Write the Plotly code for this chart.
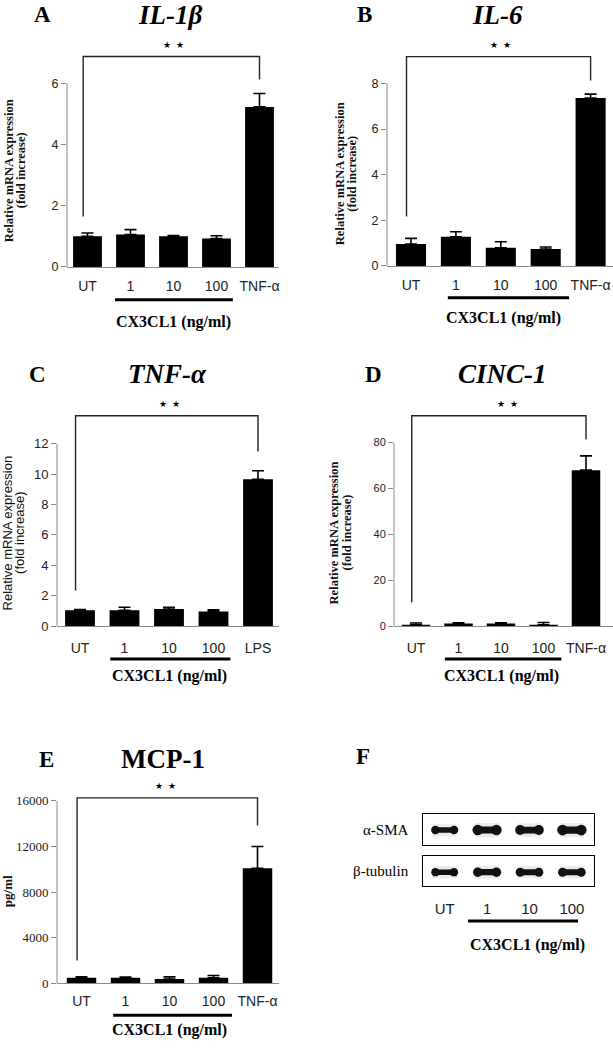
import plotly.graph_objects as go

W, H = 613, 1050

# ---------------- data ----------------
cats_tnf = ["UT", "1", "10", "100", "TNF-α"]
cats_lps = ["UT", "1", "10", "100", "LPS"]

il1b_mean = [1.00, 1.06, 1.00, 0.93, 5.23]
il1b_err = [0.11, 0.16, 0.03, 0.09, 0.44]
il1b_ticks = [0, 2, 4, 6]
il1b_bracket = [1.65, 6.88, 6.13]      # left leg end, bar level, right leg end

il6_mean = [0.96, 1.28, 0.80, 0.74, 7.36]
il6_err = [0.25, 0.22, 0.26, 0.09, 0.17]
il6_ticks = [0, 2, 4, 6, 8]
il6_bracket = [2.17, 9.17, 8.13]

tnfa_mean = [1.04, 1.04, 1.13, 0.96, 9.65]
tnfa_err = [0.05, 0.20, 0.11, 0.11, 0.57]
tnfa_ticks = [0, 2, 4, 6, 8, 10, 12]
tnfa_bracket = [2.35, 13.83, 11.48]

cinc1_mean = [0.6, 1.15, 1.15, 0.6, 68.0]
cinc1_err = [0.8, 0.3, 0.3, 1.0, 6.2]
cinc1_ticks = [0, 20, 40, 60, 80]
cinc1_bracket = [10.4, 91.7, 81.3]

mcp1_mean = [490, 490, 380, 490, 10100]
mcp1_err = [90, 60, 200, 200, 1900]
mcp1_ticks = [0, 4000, 8000, 12000, 16000]
mcp1_bracket = [2000, 16260, 13830]

blot_lanes = ["UT", "1", "10", "100"]
asma_band = [0.6, 1.0, 0.9, 1.05]
btub_band = [0.55, 0.8, 0.7, 0.7]

# ---------------- style ----------------
SERIF = "Liberation Serif"
SANS = "Liberation Sans"
AXIS_GRAY = "#8a8a8a"
INK = "#111111"
TXT = "#222222"
MRNA_L1 = "Relative mRNA expression"
MRNA_L2 = "(fold increase)"

serif_title = dict(family=SERIF, size=12.5, color=INK)
panels = [
    dict(letter="A", title="<b><i>IL-1β</i></b>", cats=cats_tnf, mean=il1b_mean, err=il1b_err,
         ticks=il1b_ticks, bracket=il1b_bracket,
         x0=67, x1=279, c0=87.5, dx=43, base=269, ttop=84, top=30,
         letter_xy=(42, 15), title_xy=(170, 15),
         ytitle=[f"<b>{MRNA_L1}</b>", f"<b>{MRNA_L2}</b>"], ytitle_x=[8.5, 20.5], ytitle_y=172,
         ytitle_font=serif_title, ytick_font=dict(family=SANS, size=12.5, color=TXT),
         uline=(0.64, 3.38), uline_y=302, cx_x=2.0, cx_y=324, tlen=6.5, star_x=2.0),
    dict(letter="B", title="<b><i>IL-6</i></b>", cats=cats_tnf, mean=il6_mean, err=il6_err,
         ticks=il6_ticks, bracket=il6_bracket,
         x0=387, x1=613, c0=411, dx=44.9, base=268, ttop=84, top=30,
         letter_xy=(365, 15), title_xy=(497, 15),
         ytitle=[f"<b>{MRNA_L1}</b>", f"<b>{MRNA_L2}</b>"], ytitle_x=[339.5, 352], ytitle_y=175,
         ytitle_font=serif_title, ytick_font=dict(family=SANS, size=12.5, color=TXT),
         uline=(0.82, 3.52), uline_y=300, cx_x=2.07, cx_y=320, tlen=6.5, star_x=2.0),
    dict(letter="C", title="<b><i>TNF-α</i></b>", cats=cats_lps, mean=tnfa_mean, err=tnfa_err,
         ticks=tnfa_ticks, bracket=tnfa_bracket,
         x0=57, x1=279, c0=80, dx=44.5, base=631, ttop=447, top=392,
         letter_xy=(37, 377), title_xy=(167, 377),
         ytitle=[MRNA_L1, MRNA_L2], ytitle_x=[7.5, 20], ytitle_y=537,
         ytitle_font=dict(family=SANS, size=13, color=INK),
         ytick_font=dict(family=SANS, size=13, color=TXT),
         uline=(0.68, 3.38), uline_y=664, cx_x=2.0, cx_y=681, tlen=9.5, star_x=2.0),
    dict(letter="D", title="<b><i>CINC-1</i></b>", cats=cats_tnf, mean=cinc1_mean, err=cinc1_err,
         ticks=cinc1_ticks, bracket=cinc1_bracket,
         x0=394, x1=613, c0=416, dx=42.5, base=631, ttop=446, top=392,
         letter_xy=(373, 377), title_xy=(502, 377),
         ytitle=[f"<b>{MRNA_L1}</b>", f"<b>{MRNA_L2}</b>"], ytitle_x=[333.5, 346.5], ytitle_y=537,
         ytitle_font=serif_title, ytick_font=dict(family=SANS, size=11, color=TXT),
         uline=(0.68, 3.42), uline_y=664, cx_x=2.0, cx_y=681, tlen=9.5, star_x=2.15),
    dict(letter="E", title="<b>MCP-1</b>", cats=cats_tnf, mean=mcp1_mean, err=mcp1_err,
         ticks=mcp1_ticks, bracket=mcp1_bracket,
         x0=57, x1=279, c0=81.5, dx=44, base=991, ttop=807, top=777,
         letter_xy=(46, 765), title_xy=(163, 765),
         ytitle=["<b>pg/ml</b>"], ytitle_x=[7], ytitle_y=898,
         ytitle_font=dict(family=SERIF, size=13, color=INK),
         ytick_font=dict(family=SERIF, size=13, color=TXT),
         uline=(0.72, 3.42), uline_y=1023, cx_x=2.0, cx_y=1038, tlen=5, star_x=1.9),
]

fig = go.Figure()
layout = dict(
    width=W, height=H, margin=dict(l=0, r=0, t=0, b=0),
    paper_bgcolor="white", plot_bgcolor="white", showlegend=False,
)
shapes = []
annotations = []


def px(xp):
    return xp / W


def py(yp):
    return 1 - yp / H


for n, p in enumerate(panels, start=1):
    xid = "x" if n == 1 else f"x{n}"
    yid = "y" if n == 1 else f"y{n}"
    xkey = "xaxis" if n == 1 else f"xaxis{n}"
    ykey = "yaxis" if n == 1 else f"yaxis{n}"
    xs = list(range(len(p["cats"])))
    top_val = p["ticks"][-1]
    yrange_top = top_val * (p["base"] - p["top"]) / (p["base"] - p["ttop"])
    xr0 = (p["x0"] - p["c0"]) / p["dx"]
    xr1 = (p["x1"] - p["c0"]) / p["dx"]

    fig.add_trace(go.Bar(
        x=xs, y=p["mean"], width=0.67, marker=dict(color="black", line=dict(width=0)),
        error_y=dict(type="data", array=p["err"], arrayminus=[0] * len(xs), symmetric=False,
                     color="black", thickness=1.6, width=6),
        xaxis=xid, yaxis=yid,
    ))
    bl, bt, br = p["bracket"]
    fig.add_trace(go.Scatter(
        x=[-0.1, -0.1, 4.0, 4.0], y=[bl, bt, bt, br], mode="lines",
        line=dict(color="#222", width=1.4), xaxis=xid, yaxis=yid, hoverinfo="skip",
    ))

    layout[xkey] = dict(
        domain=[px(p["x0"]), px(p["x1"])], range=[xr0, xr1], anchor=yid,
        showline=True, linecolor=AXIS_GRAY, linewidth=1, showgrid=False, zeroline=False,
        tickvals=xs, ticktext=p["cats"], ticks="outside", ticklen=max(p["tlen"], 0.01),
        tickcolor="rgba(0,0,0,0)", tickfont=dict(family=SANS, size=14, color=TXT),
        ticklabeloverflow="allow",
    )
    layout[ykey] = dict(
        domain=[py(p["base"]), py(p["top"])], range=[0, yrange_top], anchor=xid,
        showline=False, showgrid=False, zeroline=False,
        tickvals=p["ticks"], tickformat="d", ticks="outside", ticklen=5, tickcolor=AXIS_GRAY,
        tickfont=p["ytick_font"],
    )
    shapes.append(dict(type="line", xref=f"{xid} domain", yref=yid, x0=0, x1=0,
                       y0=0, y1=top_val, line=dict(color=AXIS_GRAY, width=1)))
    shapes.append(dict(type="line", xref=xid, yref="paper", x0=p["uline"][0], x1=p["uline"][1],
                       y0=py(p["uline_y"]), y1=py(p["uline_y"]), line=dict(color="black", width=3)))

    annotations += [
        dict(text=f"<b>{p['letter']}</b>", x=px(p["letter_xy"][0]), y=py(p["letter_xy"][1]),
             xref="paper", yref="paper", showarrow=False, xanchor="center", yanchor="middle",
             font=dict(family=SERIF, size=23, color="black")),
        dict(text=p["title"], x=px(p["title_xy"][0]), y=py(p["title_xy"][1]),
             xref="paper", yref="paper", showarrow=False, xanchor="center", yanchor="middle",
             font=dict(family=SERIF, size=27, color="black")),
        dict(text="★\u2002★", x=p["star_x"], y=bt, xref=xid, yref=yid, showarrow=False,
             xanchor="center", yanchor="middle", yshift=12, font=dict(size=9, color="black")),
        dict(text="<b>CX3CL1 (ng/ml)</b>", x=p["cx_x"], y=py(p["cx_y"]), xref=xid, yref="paper",
             showarrow=False, xanchor="center", yanchor="middle",
             font=dict(family=SERIF, size=16, color="black")),
    ]
    for txt, tx in zip(p["ytitle"], p["ytitle_x"]):
        annotations.append(dict(text=txt, x=px(tx), y=py(p["ytitle_y"]),
                                xref="paper", yref="paper", showarrow=False,
                                xanchor="center", yanchor="middle",
                                textangle=-90, font=p["ytitle_font"]))

# ---------------- panel F (western blot) ----------------
blot_x0, blot_x1, lane_c0, lane_dx = 423, 594, 444.7, 42.4
blot_rng = [(blot_x0 - lane_c0) / lane_dx, (blot_x1 - lane_c0) / lane_dx]
strips = [("x6", "y6", "xaxis6", "yaxis6", 820, 851, asma_band, "α-SMA", 836),
          ("x7", "y7", "xaxis7", "yaxis7", 863, 893, btub_band, "β-tubulin", 878)]
lanes = list(range(len(blot_lanes)))
for k, (xid, yid, xkey, ykey, t, b, band, lab, laby) in enumerate(strips):
    for i, v in zip(lanes, band):
        fig.add_trace(go.Scatter(
            x=[i - 0.28, i + 0.28], y=[0.47, 0.47], mode="lines",
            line=dict(color="rgba(0,0,0,0.08)", width=10 + 4 * v),
            xaxis=xid, yaxis=yid, hoverinfo="skip"))
        fig.add_trace(go.Scatter(
            x=[i - 0.22, i + 0.22], y=[0.47, 0.47], mode="lines+markers",
            line=dict(color=INK, width=3.5 + 3.5 * v),
            marker=dict(size=5.5 + 5 * v, color=INK, line=dict(width=0)),
            xaxis=xid, yaxis=yid, hoverinfo="skip"))
    last = (k == len(strips) - 1)
    layout[xkey] = dict(
        domain=[px(blot_x0), px(blot_x1)], range=blot_rng, anchor=yid,
        showline=True, mirror=True, linecolor="black", linewidth=1.3,
        showgrid=False, zeroline=False,
        tickvals=lanes, ticktext=blot_lanes, showticklabels=last,
        ticks="outside" if last else "", ticklen=9, tickcolor="rgba(0,0,0,0)",
        tickfont=dict(family=SANS, size=15, color=TXT),
    )
    layout[ykey] = dict(
        domain=[py(b), py(t)], range=[0, 1], anchor=xid,
        showline=True, mirror=True, linecolor="black", linewidth=1.3,
        showgrid=False, zeroline=False, showticklabels=False, ticks="",
    )
    annotations.append(dict(text=lab, x=px(411), y=py(laby), xref="paper", yref="paper",
                            showarrow=False, xanchor="right", yanchor="middle",
                            font=dict(family=SERIF, size=15, color="black")))

shapes.append(dict(type="line", xref="x7", yref="paper",
                   x0=(468 - lane_c0) / lane_dx, x1=(578 - lane_c0) / lane_dx,
                   y0=py(928), y1=py(928), line=dict(color="black", width=3)))
annotations += [
    dict(text="<b>F</b>", x=px(363), y=py(762), xref="paper", yref="paper", showarrow=False,
         xanchor="center", yanchor="middle", font=dict(family=SERIF, size=23, color="black")),
    dict(text="<b>CX3CL1 (ng/ml)</b>", x=(527 - lane_c0) / lane_dx, y=py(952), xref="x7",
         yref="paper", showarrow=False, xanchor="center", yanchor="middle",
         font=dict(family=SERIF, size=16, color="black")),
]

layout["shapes"] = shapes
layout["annotations"] = annotations
fig.update_layout(**layout)
fig.write_html(
    "out.html",
    config={"displayModeBar": False},
    post_script="document.body.style.margin='0px';document.body.style.overflow='hidden';",
)
